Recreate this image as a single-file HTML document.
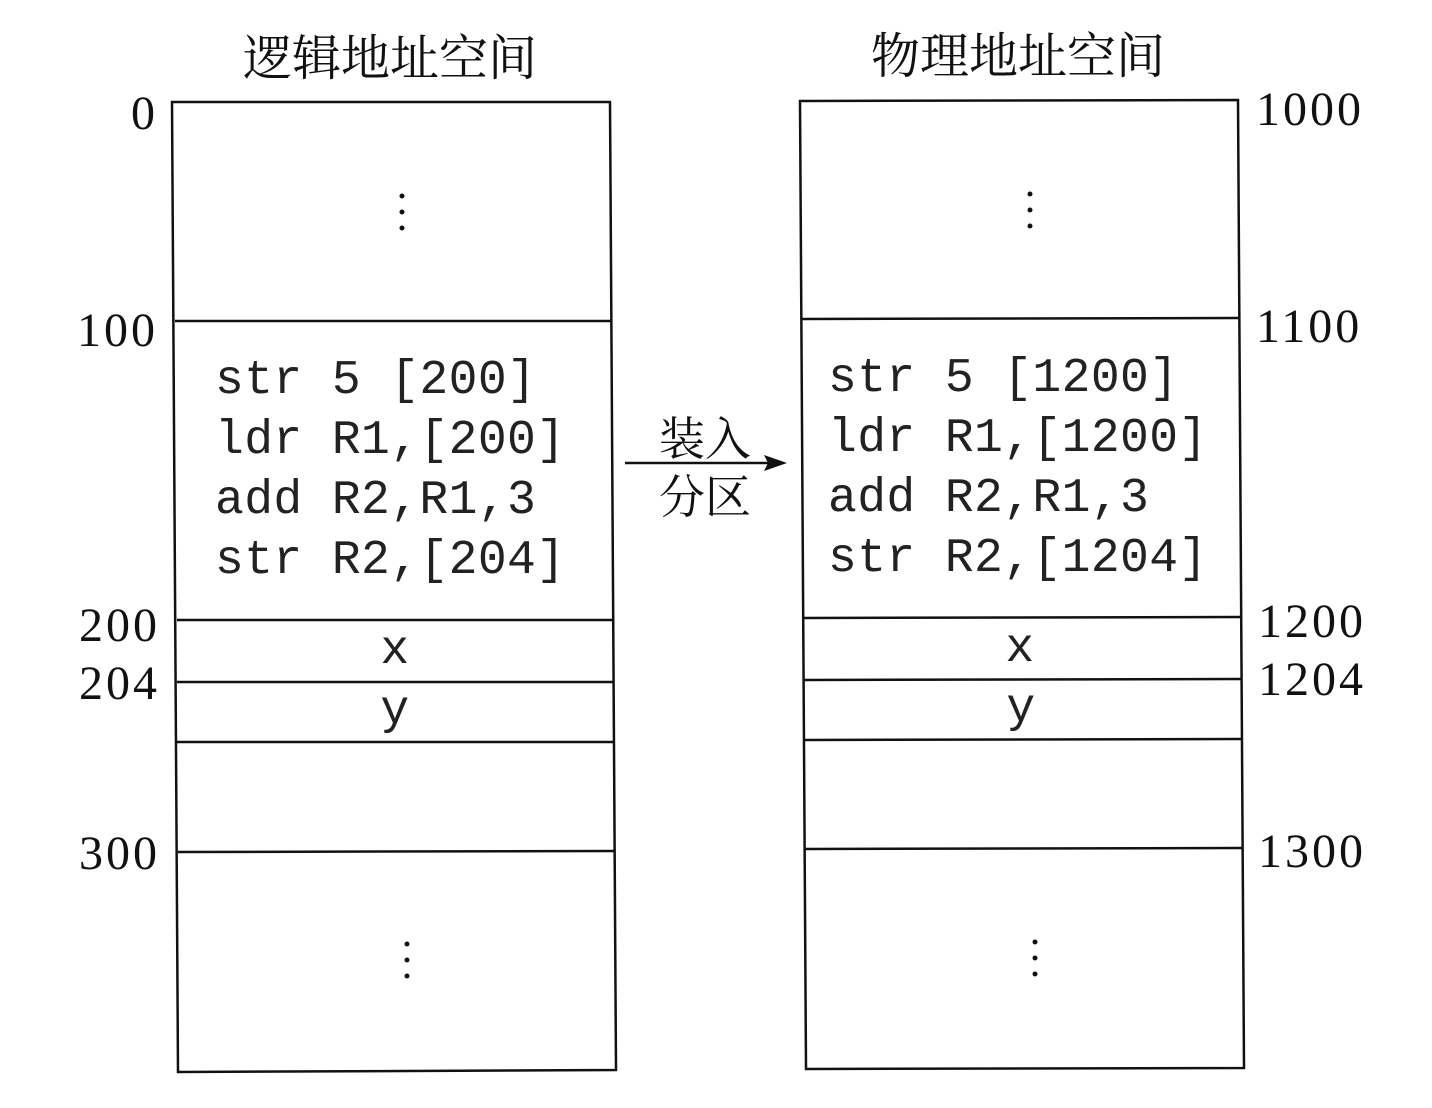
<!DOCTYPE html>
<html><head><meta charset="utf-8"><style>
html,body{margin:0;padding:0;background:#fff;}
svg{display:block}
.t{font-family:"Liberation Serif","Noto Serif CJK SC","Noto Sans CJK SC",serif;fill:#111}
.m{font-family:"Liberation Mono",monospace;fill:#222;font-size:48px;letter-spacing:0.4px}
</style></head><body>
<svg width="1432" height="1108" viewBox="0 0 1432 1108" xmlns="http://www.w3.org/2000/svg">
<g stroke="#111" stroke-width="2.5" fill="none">
<polygon points="172,102 610,102 616,1070 178,1072"/>
<line x1="175" y1="321" x2="611" y2="321"/>
<line x1="177" y1="620" x2="612" y2="620"/>
<line x1="177" y1="682" x2="613" y2="682"/>
<line x1="177" y1="742" x2="613" y2="742"/>
<line x1="178" y1="852" x2="614" y2="851"/>
<polygon points="800,101 1238,100 1244,1068 806,1069"/>
<line x1="802" y1="319" x2="1239" y2="318"/>
<line x1="804" y1="618" x2="1241" y2="617"/>
<line x1="804" y1="680" x2="1241" y2="679"/>
<line x1="804" y1="740" x2="1241" y2="739"/>
<line x1="805" y1="849" x2="1242" y2="848"/>
<line x1="625" y1="463" x2="772" y2="463"/>
</g>
<polygon points="787,463 764,455 768,463 764,471" fill="#111"/>
<g class="t" font-size="49" text-anchor="middle">
<text x="390" y="75">逻辑地址空间</text>
<text x="1018" y="73">物理地址空间</text>
<text x="705" y="455" font-size="46">装入</text>
<text x="705" y="513" font-size="46">分区</text>
</g>
<g class="t" font-size="48" text-anchor="end" letter-spacing="3">
<text x="158" y="129">0</text>
<text x="158" y="346">100</text>
<text x="160" y="641">200</text>
<text x="160" y="699">204</text>
<text x="160" y="869">300</text>
</g>
<g class="t" font-size="48" text-anchor="start" letter-spacing="3">
<text x="1256" y="125">1000</text>
<text x="1256" y="342">1100</text>
<text x="1258" y="637">1200</text>
<text x="1258" y="695">1204</text>
<text x="1258" y="867">1300</text>
</g>
<g class="m">
<text x="215" y="393">str 5 [200]</text>
<text x="215" y="453">ldr R1,[200]</text>
<text x="215" y="513">add R2,R1,3</text>
<text x="215" y="573">str R2,[204]</text>
<text x="828" y="391">str 5 [1200]</text>
<text x="828" y="451">ldr R1,[1200]</text>
<text x="828" y="511">add R2,R1,3</text>
<text x="828" y="571">str R2,[1204]</text>
</g>
<g class="m" text-anchor="middle">
<text x="395" y="663">x</text>
<text x="395" y="723">y</text>
<text x="1020" y="661">x</text>
<text x="1021" y="721">y</text>
</g>
<g fill="#111">
<circle cx="402" cy="196" r="2.5"/><circle cx="402" cy="212" r="2.5"/><circle cx="402" cy="228" r="2.5"/>
<circle cx="407" cy="944" r="2.5"/><circle cx="407" cy="960" r="2.5"/><circle cx="407" cy="976" r="2.5"/>
<circle cx="1030" cy="194" r="2.5"/><circle cx="1030" cy="210" r="2.5"/><circle cx="1030" cy="226" r="2.5"/>
<circle cx="1035" cy="942" r="2.5"/><circle cx="1035" cy="958" r="2.5"/><circle cx="1035" cy="974" r="2.5"/>
</g>
</svg>
</body></html>
